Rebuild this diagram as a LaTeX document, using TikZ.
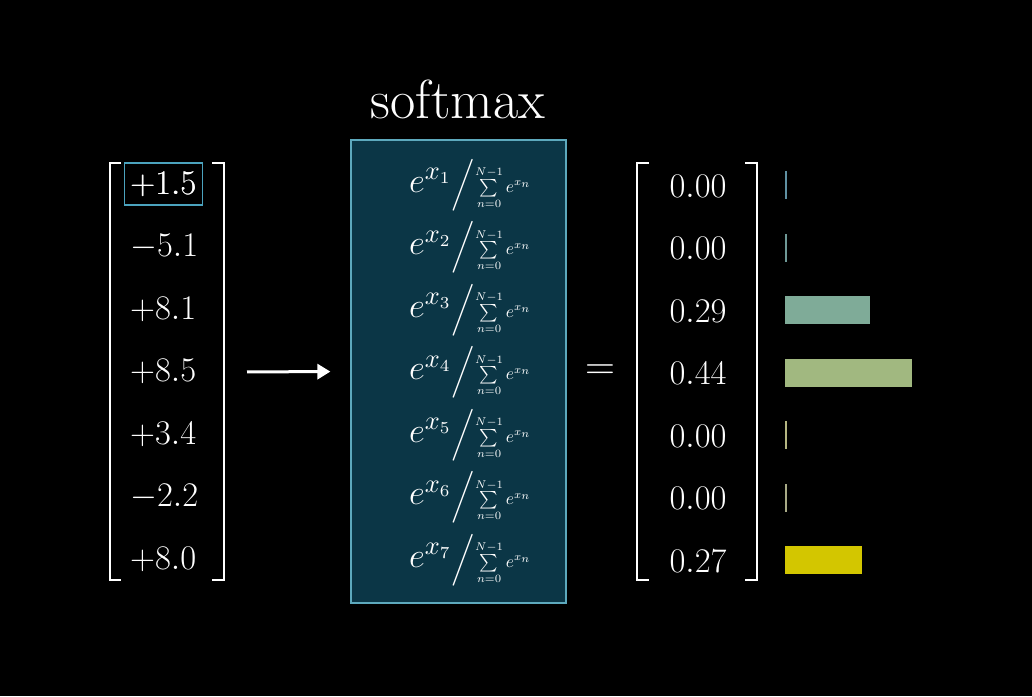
\documentclass[tikz,border=0pt]{standalone}
\usepackage{amsmath}
\usepackage{graphicx}
\usetikzlibrary{arrows.meta, positioning, calc}
\definecolor{bg}{HTML}{000000}
\definecolor{boxfill}{HTML}{0B3646}
\definecolor{boxline}{HTML}{5DA9BD}
\definecolor{pick}{HTML}{4BA3BE}
\definecolor{barA}{HTML}{5F90A2}
\definecolor{barB}{HTML}{6E9896}
\definecolor{barC}{HTML}{7FAB98}
\definecolor{barD}{HTML}{A1B880}
\definecolor{barE}{HTML}{B5B682}
\definecolor{barF}{HTML}{A8AA86}
\definecolor{barG}{HTML}{D3C600}
\newcommand{\smfrac}[1]{\scalebox{2.4}{$e^{x_{#1}}$}\scalebox{2}{$\Big/$}%
  \scalebox{1.6}{$\scriptstyle\sum\limits_{n=0}^{N-1}e^{x_n}$}}
\newcommand{\twice}[1]{\scalebox{2}{$#1$}}

\begin{document}
\begin{tikzpicture}[
  x=1pt, y=-1pt,
  every node/.style={text=white},
  num/.style={font=\fontsize{17.3}{20}\selectfont, anchor=base west,
              inner xsep=6pt, inner ysep=8pt, text height=23pt, text depth=3pt},
  frac/.style={font=\fontsize{15}{18}\selectfont},
  prob/.style={font=\fontsize{18}{21}\selectfont, anchor=base},
  brk/.style={draw=white, line width=2.6pt},
  bar/.style={anchor=west, inner sep=0pt, minimum height=28pt},
  ar/.style={-{Triangle[length=13pt, width=15pt]}, draw=white, line width=3pt}
]
\useasboundingbox[fill=bg] (0,0) rectangle (1032,696);

% softmax box
\node[draw=boxline, fill=boxfill, line width=1.2pt, minimum width=215pt,
      minimum height=463pt, inner sep=0pt] (sm) at (458.5,371.5) {};
\node[font=\fontsize{55}{62}\selectfont, anchor=base] (title) at (458,118) {softmax};

% input vector
\foreach \v [count=\i] in {+1.5, -5.1, +8.1, +8.5, +3.4, -2.2, +8.0}
  \node[num] (in\i) at (124, 185+62.5*\i-62.5+9) {\twice{\v}};
\node[num, draw=pick, line width=1.2pt] at (in1.base west) {\twice{+1.5}};

% formulas
\foreach \i in {1,...,7}
  \node[frac] (f\i) at (470, 185+62.5*\i-62.5) {\smfrac{\i}};

% output vector
\foreach \p [count=\i] in {0.00, 0.00, 0.29, 0.44, 0.00, 0.00, 0.27}
  \node[prob] (out\i) at (698, 185+62.5*\i-62.5+12) {\twice{\p}};

% brackets
\draw[brk] (121,163) -- (110,163) -- (110,580) -- (121,580);
\draw[brk] (212,163) -- (224,163) -- (224,580) -- (212,580);
\draw[brk] (649,163) -- (637,163) -- (637,580) -- (649,580);
\draw[brk] (745,163) -- (757,163) -- (757,580) -- (745,580);

% arrow and equals
\coordinate (lbr) at (224,372);
\draw[ar, shorten <=23pt, shorten >=20pt] (lbr) -- (sm.west);
\node[font=\fontsize{22}{26}\selectfont] (eq) at (600,372) {\twice{=}};

% bars
\foreach \w/\c [count=\i] in {2/barA, 2/barB, 85/barC, 127/barD, 2/barE, 2/barF, 77/barG}
  \node[bar, fill=\c, minimum width=\w] (bar\i) at (785, 185+62.5*\i-62.5) {};
\end{tikzpicture}
\end{document}
